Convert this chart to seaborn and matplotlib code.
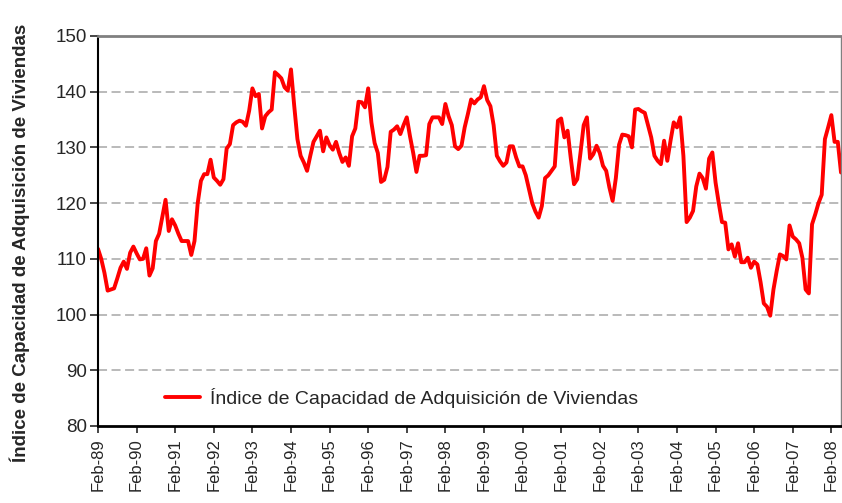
import numpy as np
import pandas as pd
import matplotlib
matplotlib.use("Agg")
import matplotlib.pyplot as plt
import seaborn as sns

# Monthly index, Feb-89 .. May-08 (one row per Feb..Jan year)
indice = [
    111.8, 110.0, 107.5, 104.3, 104.5, 104.7, 106.5, 108.4, 109.5, 108.2, 111.1, 112.2,
    111.0, 109.9, 110.0, 111.9, 107.0, 108.3, 113.2, 114.5, 117.6, 120.6, 115.0, 117.1,
    116.0, 114.5, 113.2, 113.2, 113.2, 110.7, 113.2, 120.0, 124.0, 125.2, 125.2, 127.8,
    124.6, 124.0, 123.3, 124.3, 129.8, 130.6, 134.0, 134.5, 134.8, 134.6, 133.9, 136.6,
    140.6, 139.2, 139.6, 133.4, 135.6, 136.3, 136.8, 143.5, 143.0, 142.4, 140.8, 140.2,
    144.0, 137.5, 131.5, 128.5, 127.3, 125.8, 128.5, 131.0, 132.0, 133.0, 129.3, 131.8,
    130.4, 129.6, 131.0, 129.0, 127.4, 128.2, 126.7, 132.0, 133.4, 138.2, 138.1, 137.2,
    140.6, 134.5, 130.8, 129.0, 123.8, 124.2, 126.5, 132.8, 133.2, 133.8, 132.4, 134.0,
    135.4, 132.0, 129.0, 125.6, 128.5, 128.5, 128.6, 134.2, 135.4, 135.4, 135.4, 134.2,
    137.8, 135.6, 134.0, 130.2, 129.7, 130.3, 133.6, 136.0, 138.6, 137.9, 138.6, 139.0,
    141.0, 138.5, 137.4, 134.0, 128.5, 127.5, 126.7, 127.3, 130.2, 130.2, 128.2, 126.6,
    126.6, 125.0, 122.5, 120.0, 118.5, 117.4, 119.5, 124.5, 125.0, 125.8, 126.6, 134.8,
    135.2, 131.8, 133.0, 128.0, 123.4, 124.3, 129.0, 134.0, 135.4, 128.0, 128.8, 130.3,
    129.0, 126.7, 125.8, 122.8, 120.4, 124.5, 130.5, 132.3, 132.2, 132.0, 130.0, 136.8,
    136.9, 136.5, 136.2, 134.0, 131.8, 128.5, 127.6, 127.0, 131.2, 127.6, 131.2, 134.5,
    133.6, 135.4, 128.5, 116.6, 117.4, 118.6, 123.0, 125.3, 124.5, 122.6, 128.0, 129.1,
    123.7, 120.0, 116.6, 116.5, 111.7, 112.6, 110.4, 112.8, 109.4, 109.4, 110.2, 108.4,
    109.5, 109.0, 105.8, 102.0, 101.4, 99.8, 104.5, 107.8, 110.8, 110.5, 109.9, 116.0,
    114.0, 113.5, 112.8, 110.2, 104.5, 103.8, 116.2, 118.0, 120.0, 121.5, 131.5, 133.6,
    135.8, 131.0, 131.0, 125.5,
]
year_labels = ["Feb-89", "Feb-90", "Feb-91", "Feb-92", "Feb-93", "Feb-94", "Feb-95",
               "Feb-96", "Feb-97", "Feb-98", "Feb-99", "Feb-00", "Feb-01", "Feb-02",
               "Feb-03", "Feb-04", "Feb-05", "Feb-06", "Feb-07", "Feb-08"]
serie = "Índice de Capacidad de Adquisición de Viviendas"

df = pd.DataFrame({"mes": np.arange(len(indice)), "valor": indice, "serie": serie})

sns.set_style("white")
plt.rcParams["font.family"] = ["Liberation Sans", "DejaVu Sans"]

fig = plt.figure(figsize=(8.42, 5.03), dpi=100)
ax = fig.add_axes([98 / 842, 1 - 426 / 503, 743 / 842, 390 / 503])

sns.lineplot(data=df, x="mes", y="valor", hue="serie", palette=["#FF0000"],
             linewidth=2.8, ax=ax)

ax.set_xlim(0, len(indice) - 1)
ax.set_ylim(80, 150)
ax.set_yticks(range(80, 151, 10))
ax.set_xticks(range(0, 12 * len(year_labels), 12))
ax.set_xticklabels(year_labels, rotation=90, fontsize=12)
ax.tick_params(axis="y", labelsize=13.5, length=6, width=1.2, direction="out", left=True, pad=2)
ax.tick_params(axis="x", length=5, width=1.2, direction="out", bottom=True, pad=4)
ax.set_xlabel("")
ax.set_ylabel("")

for y in range(90, 150, 10):
    ax.axhline(y, color="#B4B4B4", linewidth=1.3, linestyle=(0, (5, 2.5)), zorder=0)

ax.spines["left"].set_color("black")
ax.spines["left"].set_linewidth(1.5)
ax.spines["bottom"].set_color("black")
ax.spines["bottom"].set_linewidth(2.0)
ax.spines["top"].set_color("#808080")
ax.spines["top"].set_linewidth(2.0)
ax.spines["right"].set_color("#808080")
ax.spines["right"].set_linewidth(1.0)

fig.text(20 / 842, 1 - 243 / 503, serie, rotation=90, ha="center", va="center",
         fontsize=13.5, fontweight="bold")

ax.legend(loc="center left", bbox_to_anchor=(67 / 743, 28 / 390), frameon=False,
          fontsize=14, handlelength=1.8, handletextpad=0.5, borderpad=0, borderaxespad=0)

fig.savefig("out.png", dpi=100)
